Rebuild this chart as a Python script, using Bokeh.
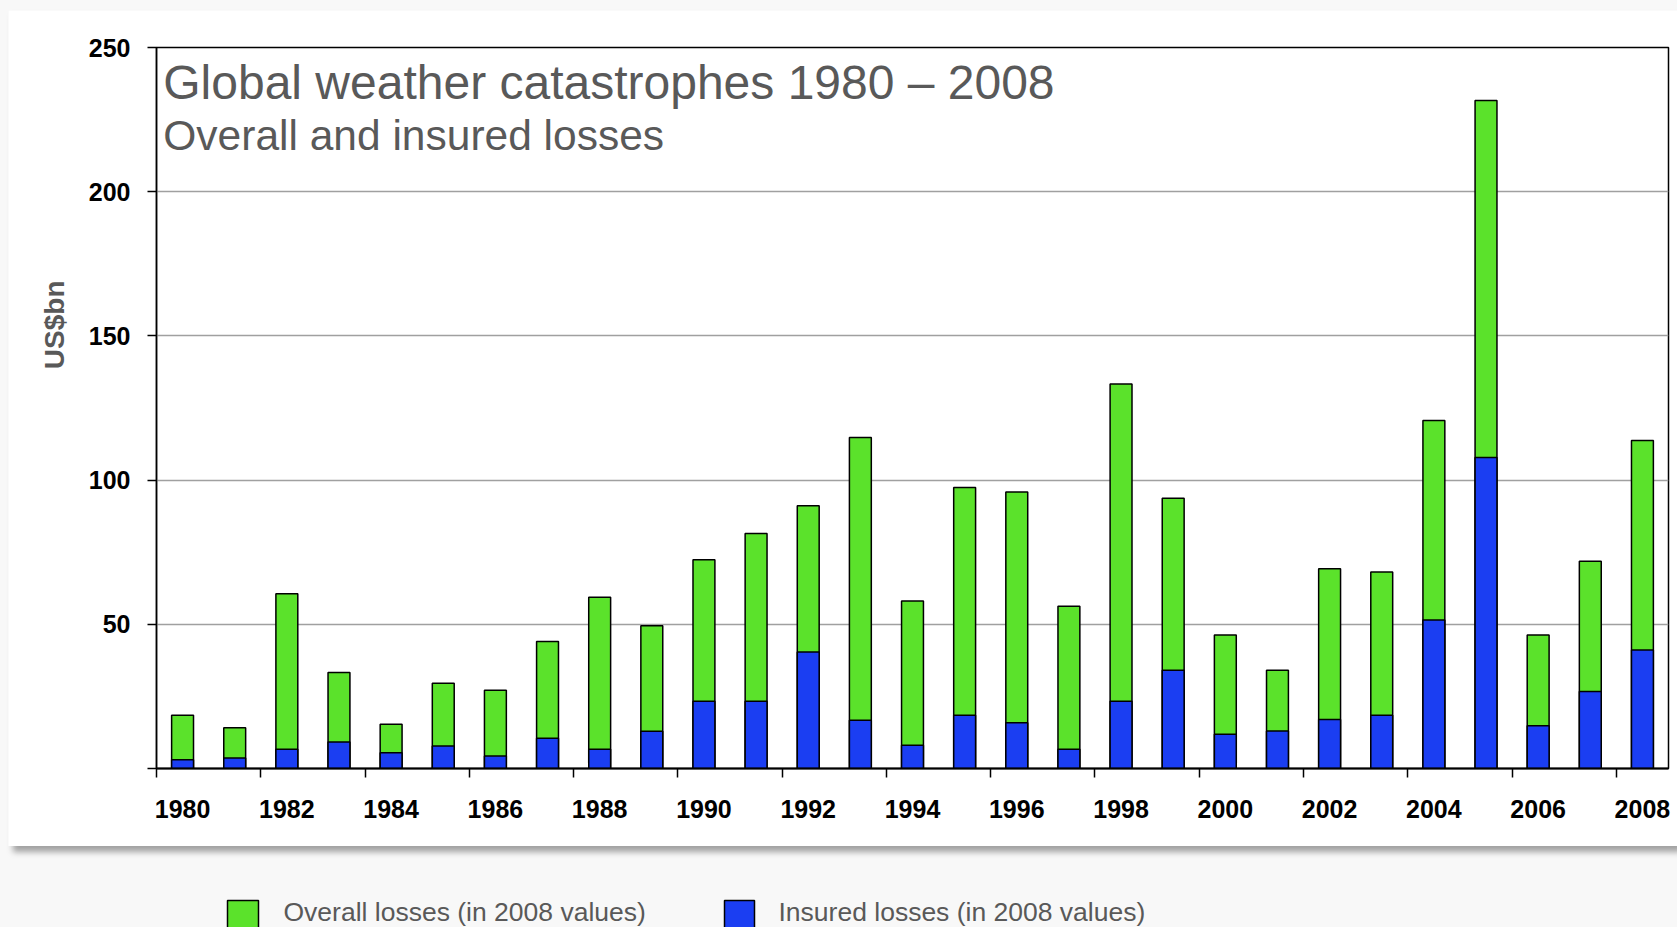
from bokeh.plotting import figure
from bokeh.models import Range1d, FixedTicker, Label, Title, ColumnDataSource
from bokeh.core.properties import value
from bokeh.layouts import column
from bokeh.embed import file_html
from bokeh.resources import INLINE

# ---- data (US$bn, in 2008 values) ----
years = list(range(1980, 2009))
overall = [18.5, 14.1, 60.6, 33.3, 15.3, 29.6, 27.1, 44.0, 59.4, 49.5,
           72.4, 81.5, 91.1, 114.8, 58.1, 97.4, 95.9, 56.3, 133.3, 93.7,
           46.3, 34.1, 69.3, 68.1, 120.7, 231.6, 46.3, 71.9, 113.7]
insured = [3.0, 3.6, 6.7, 9.2, 5.5, 7.8, 4.3, 10.5, 6.7, 12.9,
           23.3, 23.3, 40.4, 16.7, 8.1, 18.5, 15.9, 6.7, 23.3, 34.1,
           11.9, 13.0, 17.0, 18.5, 51.5, 107.8, 14.8, 26.7, 41.1]
y_ticks = [0, 50, 100, 150, 200, 250]
label_years = years[::2]
tick_bounds = [years[0] - 0.5] + [y + 0.5 for y in years[1::2]]

title_text = "Global weather catastrophes 1980 \u2013 2008"
subtitle_text = "Overall and insured losses"
y_label = "US$bn"
legend_labels = ["Overall losses (in 2008 values)", "Insured losses (in 2008 values)"]

GREEN = "#5be22b"
BLUE = "#1b3ef2"
GRAY_TXT = "#595959"
FONT = "Liberation Sans"

src = ColumnDataSource(data=dict(year=years, overall=overall, insured=insured))

p = figure(width=1669, height=836, output_backend="svg", toolbar_location=None,
           x_range=Range1d(years[0] - 0.5, years[-1] + 0.5), y_range=Range1d(0, 250),
           min_border_left=148, min_border_right=9, min_border_top=37, min_border_bottom=78,
           border_fill_color="white", background_fill_color="white",
           outline_line_color="black", outline_line_width=1.5)
p.margin = (10, 0, 0, 8)
p.frame_align = False
p.styles = {"box-shadow": "5px 6px 6px rgba(0,0,0,0.35)"}

p.vbar(x="year", top="overall", width=0.42, source=src,
       fill_color=GREEN, line_color="black", line_width=1.5)
p.vbar(x="year", top="insured", width=0.42, source=src,
       fill_color=BLUE, line_color="black", line_width=1.5)

# axes
p.xaxis.ticker = FixedTicker(ticks=label_years, minor_ticks=tick_bounds)
p.xaxis.major_tick_out = 0
p.xaxis.major_tick_in = 0
p.xaxis.minor_tick_out = 9
p.xaxis.minor_tick_in = 0
p.xaxis.minor_tick_line_color = "black"
p.xaxis.minor_tick_line_width = 1.5
p.xaxis.axis_line_color = "black"
p.xaxis.axis_line_width = 2
p.xaxis.major_label_standoff = 22

p.yaxis.ticker = FixedTicker(ticks=y_ticks)
p.yaxis.major_label_overrides = {0: ""}
p.yaxis.major_tick_out = 9
p.yaxis.major_tick_in = 0
p.yaxis.major_tick_line_color = "black"
p.yaxis.major_tick_line_width = 1.5
p.yaxis.minor_tick_line_color = None
p.yaxis.axis_line_color = "black"
p.yaxis.axis_line_width = 1.5
p.yaxis.major_label_standoff = 17

for ax in (p.xaxis, p.yaxis):
    ax.major_label_text_font = FONT
    ax.major_label_text_font_size = "25px"
    ax.major_label_text_font_style = "bold"
    ax.major_label_text_color = "black"

p.xgrid.visible = False
p.ygrid.ticker = FixedTicker(ticks=y_ticks[1:-1])
p.ygrid.grid_line_color = "#a0a0a0"
p.ygrid.grid_line_width = 1.5

# y-axis title, placed in the left panel and shifted upward as in the original
p.add_layout(Title(text=y_label, align="right", offset=233, standoff=32,
                   vertical_align="bottom", text_font=FONT, text_font_size="28px",
                   text_font_style="bold", text_color=GRAY_TXT), "left")

p.add_layout(Label(x=1979.63, y=238, text=title_text, text_font=FONT,
                   text_font_size="48px", text_color=GRAY_TXT, text_baseline="alphabetic"))
p.add_layout(Label(x=1979.63, y=219.6, text=subtitle_text, text_font=FONT,
                   text_font_size="42.5px", text_color=GRAY_TXT, text_baseline="alphabetic"))

# legend strip below the panel (pixel coordinates, y measured from the strip top)
LEG_W, LEG_H = 1677, 81
sw_left = [227, 724]
sw_right = [258, 754]
sw_top = [54, 54]
sw_bottom = [85, 85]
txt_x = [283, 778]
txt_y = [65, 65]

leg = figure(width=LEG_W, height=LEG_H, output_backend="svg", toolbar_location=None,
             x_range=Range1d(0, LEG_W), y_range=Range1d(LEG_H, 0),
             x_axis_location=None, y_axis_location=None,
             min_border=0, outline_line_color=None,
             background_fill_alpha=0, border_fill_alpha=0)
leg.frame_align = False
leg.xgrid.visible = False
leg.ygrid.visible = False
leg.quad(left=sw_left, right=sw_right, top=sw_top, bottom=sw_bottom,
         fill_color=[GREEN, BLUE], line_color="black", line_width=1.5)
leg.text(x=txt_x, y=txt_y, text=legend_labels, text_font=value(FONT),
         text_font_size="26.5px", text_color=GRAY_TXT, text_baseline="alphabetic")

layout = column(p, leg, styles={"background-color": "#f8f8f8"})

open("out.html", "w").write(file_html(layout, INLINE))
